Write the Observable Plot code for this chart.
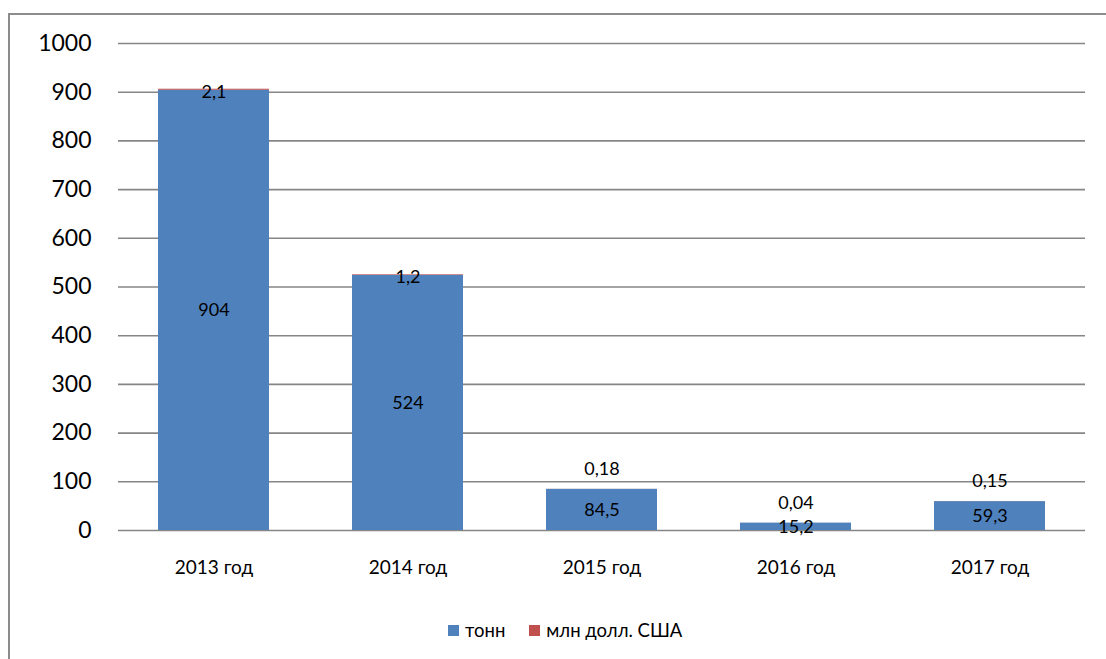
<!DOCTYPE html>
<html>
<head>
<meta charset="utf-8">
<script src="https://cdn.jsdelivr.net/npm/d3@7"></script>
<script src="https://cdn.jsdelivr.net/npm/@observablehq/plot@0.6"></script>
<style>
  html, body { margin: 0; padding: 0; background: #fff; }
  body { width: 1106px; height: 659px; position: relative; overflow: hidden; font-family: Lato, "Liberation Sans", sans-serif; }
  #frame { position: absolute; left: 8px; top: 13px; width: 1110px; height: 660px; border-left: 2px solid #8c8c8c; border-top: 2px solid #8c8c8c; box-sizing: border-box; }
  #chart { position: absolute; left: 0; top: 0; }
  #legend { position: absolute; left: 448px; top: 619px; display: flex; align-items: center; font-size: 18.5px; color: #000; }
  .sw { display: inline-block; width: 11px; height: 11px; margin-right: 6px; }
  .item { display: flex; align-items: center; margin-right: 24px; }
</style>
</head>
<body>
<div id="frame"></div>
<div id="chart"></div>
<div id="legend"></div>
<script>
const years = ["2013 год", "2014 год", "2015 год", "2016 год", "2017 год"];
const tonnes = [904, 524, 84.5, 15.2, 59.3];
const usd = [2.1, 1.2, 0.18, 0.04, 0.15];
const seriesNames = ["тонн", "млн долл. США"];
const seriesColors = ["#4F81BD", "#C0504D"];
const yTicks = [0, 100, 200, 300, 400, 500, 600, 700, 800, 900, 1000];

const rows = years.flatMap((y, i) => [
  {year: y, series: seriesNames[0], value: tonnes[i], base: 0},
  {year: y, series: seriesNames[1], value: usd[i], base: tonnes[i]}
]);
const fmt = v => String(v).replace(".", ",");
const tonneRows = rows.filter(d => d.series === seriesNames[0]);
const usdRows = rows.filter(d => d.series === seriesNames[1]);

const font = "Lato, 'Liberation Sans', sans-serif";

const chart = Plot.plot({
  width: 1106,
  height: 600,
  marginLeft: 118,
  marginRight: 21,
  marginTop: 43,
  marginBottom: 70,
  style: {fontFamily: font, background: "transparent", color: "#000"},
  x: {domain: years, paddingInner: 0.43, paddingOuter: 0.206, label: null},
  y: {domain: [0, 1000], label: null},
  color: {domain: seriesNames, range: seriesColors},
  marks: [
    Plot.ruleY(yTicks, {stroke: "#868686", strokeWidth: 1.6}),
    Plot.barY(rows, {x: "year", y: "value", fill: "series", order: seriesNames}),
    Plot.text(tonneRows, {x: "year", y: d => d.value / 2, text: d => fmt(d.value), fontSize: 18, fill: "#000"}),
    Plot.text(usdRows.filter(d => d.base > 200), {x: "year", y: d => d.base + d.value / 2, dy: 2, text: d => fmt(d.value), fontSize: 18, fill: "#000"}),
    Plot.text(usdRows.filter(d => d.base <= 200), {x: "year", y: d => d.base + d.value, dy: -20, text: d => fmt(d.value), fontSize: 18, fill: "#000"}),
    Plot.axisY({ticks: yTicks, tickSize: 0, tickPadding: 27, tickFormat: d => String(d), fontSize: 23, label: null}),
    Plot.axisX({tickSize: 0, tickPadding: 30, fontSize: 19, label: null})
  ]
});
document.getElementById("chart").appendChild(chart);

const legend = document.getElementById("legend");
seriesNames.forEach((name, i) => {
  const item = document.createElement("div");
  item.className = "item";
  const sw = document.createElement("span");
  sw.className = "sw";
  sw.style.background = seriesColors[i];
  item.appendChild(sw);
  item.appendChild(document.createTextNode(name));
  legend.appendChild(item);
});
</script>
</body>
</html>
